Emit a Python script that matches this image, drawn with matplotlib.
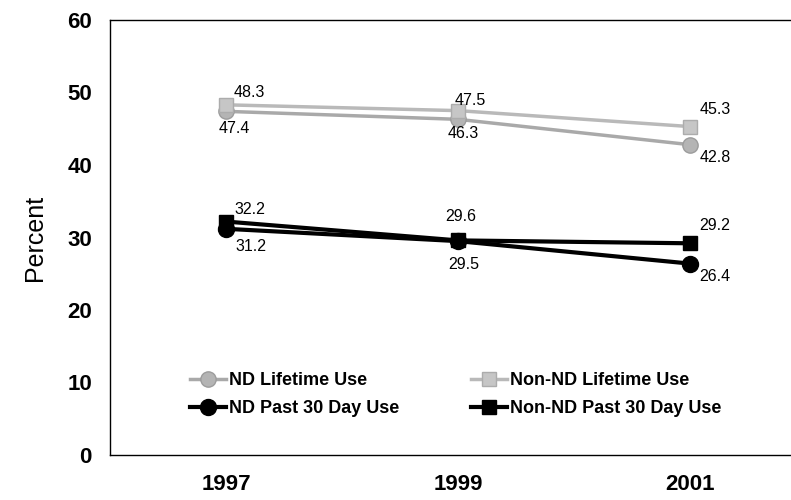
import matplotlib.pyplot as plt

plt.rcParams['font.family'] = ['Liberation Sans', 'DejaVu Sans']

# data
years = ['1997', '1999', '2001']
nd_lifetime = [47.4, 46.3, 42.8]
non_nd_lifetime = [48.3, 47.5, 45.3]
nd_past30 = [31.2, 29.5, 26.4]
non_nd_past30 = [32.2, 29.6, 29.2]

# label offsets (points) from each marker, like the original placement
off_non_nd_lifetime = [(17, 9), (9, 7), (18, 12)]
off_nd_lifetime = [(6, -12), (4, -10), (18, -9)]
off_non_nd_past30 = [(17, 9), (2, 17), (18, 13)]
off_nd_past30 = [(18, -13), (4, -17), (18, -9)]

x = list(range(len(years)))

fig = plt.figure(figsize=(7.91, 5.0), dpi=100)
ax = fig.add_axes([0.139, 0.09, 0.861, 0.87])

h1, = ax.plot(x, nd_lifetime, color='#a9a9a9', lw=2.5, marker='o', ms=11,
              mfc='#b4b4b4', mec='#9c9c9c', label='ND Lifetime Use')
h2, = ax.plot(x, non_nd_lifetime, color='#b9b9b9', lw=2.5, marker='s', ms=10,
              mfc='#c6c6c6', mec='#acacac', label='Non-ND Lifetime Use')
h3, = ax.plot(x, nd_past30, color='black', lw=3, marker='o', ms=11.5,
              mfc='black', mec='black', label='ND Past 30 Day Use')
h4, = ax.plot(x, non_nd_past30, color='black', lw=3, marker='s', ms=10,
              mfc='black', mec='black', label='Non-ND Past 30 Day Use')

for vals, offs in [(non_nd_lifetime, off_non_nd_lifetime),
                   (nd_lifetime, off_nd_lifetime),
                   (non_nd_past30, off_non_nd_past30),
                   (nd_past30, off_nd_past30)]:
    for xi, v, o in zip(x, vals, offs):
        ax.annotate(f'{v:.1f}', (xi, v), xytext=o, textcoords='offset points',
                    fontsize=11.5, ha='center', va='center')

ax.set_xlim(-0.5, 2.435)
ax.set_ylim(0, 60)
ax.set_yticks(range(0, 61, 10))
ax.set_xticks(x)
ax.set_xticklabels(years)
ax.tick_params(axis='both', length=0, labelsize=16)
ax.tick_params(axis='x', pad=14)
ax.tick_params(axis='y', pad=13)
for lbl in ax.get_xticklabels() + ax.get_yticklabels():
    lbl.set_fontweight('bold')

ax.set_ylabel('Percent', fontsize=18)
ax.yaxis.set_label_coords(-0.092, 0.5)

ax.spines['right'].set_visible(False)
for s in ['left', 'top', 'bottom']:
    ax.spines[s].set_linewidth(1.0)

# legend rows: lifetime on top, past 30 day below
leg = ax.legend([h1, h3, h2, h4],
                [h1.get_label(), h3.get_label(), h2.get_label(), h4.get_label()],
                ncol=2, loc='center left', bbox_to_anchor=(0.1175, 0.139),
                frameon=False, fontsize=13, handlelength=2.0, handletextpad=0.15,
                columnspacing=4.0, labelspacing=0.6, borderpad=0, borderaxespad=0)
for t in leg.get_texts():
    t.set_fontweight('bold')

fig.savefig('out.png', dpi=100)
